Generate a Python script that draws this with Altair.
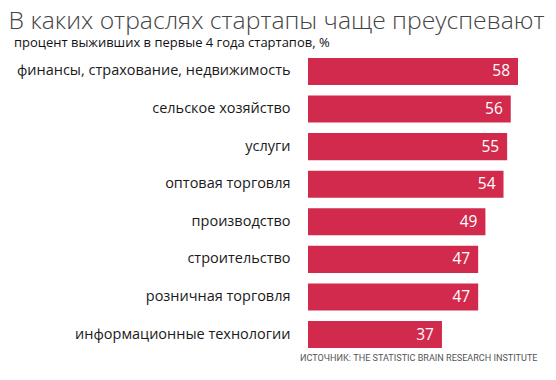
import altair as alt
import pandas as pd

categories = [
    "финансы, страхование, недвижимость",
    "сельское хозяйство",
    "услуги",
    "оптовая торговля",
    "производство",
    "строительство",
    "розничная торговля",
    "информационные технологии",
]
values = [58, 56, 55, 54, 49, 47, 47, 37]

title_text = "В каких отраслях стартапы чаще преуспевают"
subtitle_text = "процент выживших в первые 4 года стартапов, %"
source_text = "ИСТОЧНИК: THE STATISTIC BRAIN RESEARCH INSTITUTE"

df = pd.DataFrame({"cat": categories, "val": values})

FONT = "Open Sans"
COLOR = "#D12A4C"

y_enc = alt.Y(
    "cat:N",
    sort=categories,
    title=None,
    scale=alt.Scale(paddingInner=0.28, paddingOuter=0.14),
    axis=alt.Axis(
        domain=False,
        ticks=False,
        labelPadding=18,
        labelFont=FONT,
        labelFontSize=14.5,
        labelColor="#1a1a1a",
        labelLimit=400,
    ),
)
x_enc = alt.X(
    "val:Q",
    scale=alt.Scale(domain=[0, 58], nice=False, zero=True),
    axis=None,
)

bars = alt.Chart(df).mark_bar(color=COLOR).encode(y=y_enc, x=x_enc)

labels = alt.Chart(df).mark_text(
    align="right", baseline="middle", dx=-8, color="white",
    font=FONT, fontSize=15.5,
).encode(y=alt.Y("cat:N", sort=categories), x="val:Q", text="val:Q")

ttl = alt.Chart(pd.DataFrame({"t": [title_text]})).mark_text(
    align="left", baseline="alphabetic", font=FONT, fontSize=24.7,
    fontWeight=300, color="#444",
).encode(x=alt.value(-299.5), y=alt.value(-23.5), text="t:N")

sub = alt.Chart(pd.DataFrame({"t": [subtitle_text]})).mark_text(
    align="left", baseline="alphabetic", font=FONT, fontSize=13, color="#111",
).encode(x=alt.value(-294), y=alt.value(-5.5), text="t:N")

src = alt.Chart(pd.DataFrame({"t": [source_text]})).mark_text(
    align="left", baseline="alphabetic", font="Roboto",
    fontSize=9.1, color="#555",
).encode(x=alt.value(-8), y=alt.value(308), text="t:N")

chart = alt.layer(bars, labels, ttl, sub, src).properties(
    width=210,
    height=300.6,
    padding={"left": 300, "top": 44.7, "right": 30, "bottom": 19},
    autosize=alt.AutoSizeParams(type="none"),
).configure_view(stroke=None)

chart.save("out.html", embed_options={"renderer": "svg", "actions": False})
